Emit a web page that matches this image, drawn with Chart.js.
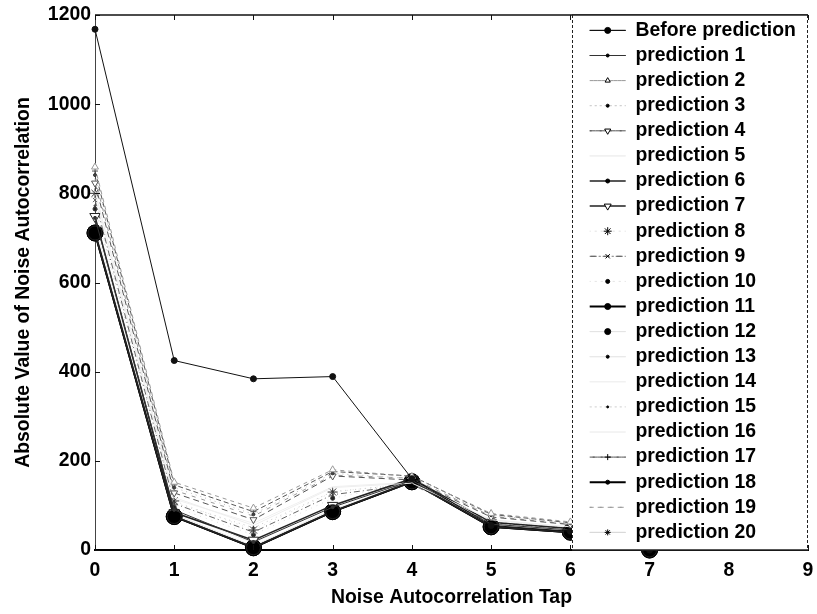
<!DOCTYPE html>
<html>
<head>
<meta charset="utf-8">
<script src="https://cdn.jsdelivr.net/npm/chart.js@4.4.1/dist/chart.umd.min.js"></script>
<style>
  html, body { margin: 0; padding: 0; background: #fff; }
  #wrap { width: 817px; height: 614px; }
</style>
</head>
<body>
<div id="wrap"><canvas id="tapChart" width="817" height="614"></canvas></div>
<script>
// Autocorrelation taps on the x axis
const taps = [0, 1, 2, 3, 4, 5, 6, 7];

// |autocorrelation| of the noise, before and after each prediction pass
const beforePrediction = [1168, 425, 384, 389, 160, 55, 42, 0];
const pred1  = [745, 90, 18, 96, 156, 58, 45, 2];
const pred2  = [859, 152, 94, 180, 165, 82, 63, 8];
const pred3  = [841, 140, 80, 172, 160, 78, 60, 6];
const pred4  = [823, 128, 68, 166, 157, 74, 57, 5];
const pred5  = [805, 118, 55, 140, 150, 68, 52, 4];
const pred6  = [711, 75, 5, 86, 153, 52, 40, 0];
const pred7  = [748, 84, 22, 100, 160, 62, 48, 2];
const pred8  = [800, 110, 45, 130, 150, 64, 50, 3];
const pred9  = [785, 104, 40, 124, 147, 61, 48, 3];
const pred10 = [765, 96, 34, 116, 152, 59, 46, 2];
const pred11 = [711, 75, 5, 86, 153, 52, 40, 0];
const pred12 = [714, 77, 6, 88, 155, 53, 41, 0];
const pred13 = [720, 80, 9, 91, 151, 55, 42, 1];
const pred14 = [730, 86, 15, 102, 158, 57, 44, 1];
const pred15 = [772, 106, 50, 131, 148, 63, 49, 3];
const pred16 = [792, 114, 60, 142, 152, 67, 51, 4];
const pred17 = [850, 146, 86, 176, 166, 80, 61, 7];
const pred18 = [711, 75, 5, 86, 153, 52, 40, 0];
const pred19 = [833, 134, 76, 168, 161, 76, 58, 6];
const pred20 = [712, 76, 5, 87, 152, 52, 40, 0];

const seriesNames = ['Before prediction'];
for (let i = 1; i <= 20; i++) seriesNames.push('prediction ' + i);

const seriesValues = [beforePrediction, pred1, pred2, pred3, pred4, pred5, pred6, pred7,
  pred8, pred9, pred10, pred11, pred12, pred13, pred14, pred15, pred16, pred17, pred18,
  pred19, pred20];

const yTicks = { min: 0, max: 1200, step: 200 };
const xTicks = { min: 0, max: 9, step: 1 };

// line / marker look of each series (grey levels of a b&w print)
const seriesStyles = [
  { color: '#111', width: 1,   dash: [],         point: 'circle',   radius: 3,   fill: '#111', mark: 3 },
  { color: '#333', width: 1,   dash: [],         point: 'circle',   radius: 1.5, fill: '#333', mark: 1.5 },
  { color: '#999', width: 1,   dash: [4, 4],     point: 'triangle', radius: 4,   fill: '#fff', mark: 3 },
  { color: '#bbb', width: 1,   dash: [1, 4],     point: 'circle',   radius: 1.5, fill: '#444', mark: 1.5 },
  { color: '#555', width: 1,   dash: [6, 4],     point: 'triangle', radius: 4,   fill: '#fff', mark: 3.5, rotation: 180 },
  { color: '#eeeeee', width: 1, dash: [],        point: false },
  { color: '#222', width: 1.5, dash: [],         point: 'circle',   radius: 7,   fill: '#000', mark: 2 },
  { color: '#222', width: 1.5, dash: [],         point: 'triangle', radius: 6,   fill: '#fff', mark: 4, rotation: 180 },
  { color: '#dddddd', width: 1, dash: [1, 5],    point: 'star',     radius: 5,   fill: '#fff', mark: 4 },
  { color: '#666', width: 1,   dash: [6, 3, 1, 3], point: 'crossRot', radius: 3, fill: '#555', mark: 3 },
  { color: '#dddddd', width: 1, dash: [1, 5],    point: 'circle',   radius: 2,   fill: '#222', mark: 2 },
  { color: '#000', width: 2,   dash: [],         point: 'circle',   radius: 8,   fill: '#000', mark: 3 },
  { color: '#e4e4e4', width: 1, dash: [],        point: 'circle',   radius: 3,   fill: '#111', mark: 3 },
  { color: '#e8e8e8', width: 1, dash: [],        point: 'circle',   radius: 1.5, fill: '#444', mark: 1.5 },
  { color: '#f0f0f0', width: 1, dash: [],        point: false },
  { color: '#c8c8c8', width: 1, dash: [1, 4],    point: 'circle',   radius: 1,   fill: '#888', mark: 1 },
  { color: '#f0f0f0', width: 1, dash: [],        point: false },
  { color: '#555', width: 1,   dash: [5, 3],     point: 'cross',    radius: 3,   fill: '#444', mark: 3 },
  { color: '#000', width: 2,   dash: [],         point: 'circle',   radius: 8,   fill: '#000', mark: 2 },
  { color: '#999', width: 1,   dash: [4, 6],     point: false },
  { color: '#d8d8d8', width: 1, dash: [],        point: 'star',     radius: 6,   fill: '#fff', mark: 3 }
];

const FONT = "'Liberation Sans', Arial, Helvetica, sans-serif";
const FONT_SIZE = 19.4;
const LEGEND_BOX_W = 36;
const LEGEND_PAD = 5.7;

Chart.defaults.font.family = FONT;
Chart.defaults.font.size = FONT_SIZE;
Chart.defaults.font.weight = 'bold';
Chart.defaults.color = '#000';

// light lines still get dark marker outlines
const markerEdge = st => (parseInt(st.color.slice(1, 2), 16) >= 10 ? '#333' : st.color);

const datasets = seriesValues.map((values, i) => {
  const st = seriesStyles[i];
  return {
    label: seriesNames[i],
    data: values.map((v, k) => ({ x: taps[k], y: v })),
    borderColor: st.color,
    borderWidth: st.width,
    borderDash: st.dash,
    backgroundColor: st.fill || st.color,
    pointStyle: st.point || 'circle',
    pointRadius: st.point ? st.radius : 0,
    pointBackgroundColor: st.fill || st.color,
    pointBorderColor: markerEdge(st),
    pointBorderWidth: 1,
    pointRotation: st.rotation || 0,
    tension: 0,
    clip: false
  };
});

// box around the axes, inward ticks, and the legend panel drawn over the plot
const framePlugin = {
  id: 'frame',
  afterLayout(chart) {
    const lg = chart.legend, ca = chart.chartArea;
    lg.left = ca.right - 224;
    lg.right = ca.right;
    lg.top = ca.top;
    lg.bottom = ca.bottom;
    lg.height = ca.bottom - ca.top;
  },
  afterDraw(chart) {
    const { ctx, chartArea: ca, scales: { x, y } } = chart;
    ctx.save();
    ctx.strokeStyle = '#111';
    ctx.lineWidth = 1.5;
    ctx.beginPath();
    ctx.moveTo(ca.left, ca.top);
    ctx.lineTo(ca.right, ca.top);
    ctx.stroke();

    ctx.lineWidth = 1;
    ctx.beginPath();
    y.ticks.forEach(t => {
      const py = Math.round(y.getPixelForValue(t.value)) + 0.5;
      ctx.moveTo(ca.left, py);
      ctx.lineTo(ca.left + 5, py);
    });
    x.ticks.forEach(t => {
      const px = Math.round(x.getPixelForValue(t.value)) + 0.5;
      ctx.moveTo(px, ca.bottom);
      ctx.lineTo(px, ca.bottom - 5);
      ctx.moveTo(px, ca.top);
      ctx.lineTo(px, ca.top + 5);
    });
    ctx.stroke();

    // legend panel
    const boxLeft = Math.round(ca.right - 236);
    ctx.fillStyle = '#fff';
    ctx.fillRect(boxLeft, ca.top, ca.right - boxLeft, ca.bottom - ca.top);
    ctx.strokeStyle = '#222';
    ctx.lineWidth = 1;
    ctx.setLineDash([3, 2]);
    ctx.beginPath();
    ctx.moveTo(boxLeft + 0.5, ca.top);
    ctx.lineTo(boxLeft + 0.5, ca.bottom);
    ctx.moveTo(ca.right - 0.5, ca.top);
    ctx.lineTo(ca.right - 0.5, ca.bottom);
    ctx.stroke();
    ctx.setLineDash([]);
    ctx.lineWidth = 1.5;
    ctx.beginPath();
    ctx.moveTo(boxLeft, ca.top);
    ctx.lineTo(ca.right, ca.top);
    ctx.moveTo(boxLeft, ca.bottom);
    ctx.lineTo(ca.right, ca.bottom);
    ctx.stroke();
    ctx.restore();

    chart.legend.draw();

    // marker in the middle of each legend line
    const hb = chart.legend.legendHitBoxes;
    ctx.save();
    chart.legend.legendItems.forEach((item, i) => {
      const st = seriesStyles[item.datasetIndex];
      if (!st.point || !hb[i]) return;
      ctx.setLineDash([]);
      ctx.fillStyle = st.fill === '#fff' ? '#fff' : '#000';
      ctx.strokeStyle = '#000';
      ctx.lineWidth = 1;
      Chart.helpers.drawPoint(ctx, {
        pointStyle: st.point,
        radius: st.mark,
        rotation: st.rotation || 0,
        borderWidth: 1
      }, hb[i].left + LEGEND_BOX_W / 2, hb[i].top + FONT_SIZE / 2);
    });
    ctx.restore();
  }
};

new Chart(document.getElementById('tapChart'), {
  type: 'line',
  data: { datasets },
  plugins: [framePlugin],
  options: {
    responsive: false,
    animation: false,
    events: [],
    layout: { padding: { top: 15, right: 7, bottom: 0, left: 0 } },
    plugins: {
      tooltip: { enabled: false },
      legend: {
        position: 'chartArea',
        align: 'start',
        labels: {
          boxWidth: LEGEND_BOX_W,
          boxHeight: 0,
          padding: LEGEND_PAD,
          color: '#000',
          font: { size: FONT_SIZE, weight: 'bold' }
        }
      }
    },
    scales: {
      x: {
        type: 'linear',
        min: xTicks.min,
        max: xTicks.max,
        afterFit(scale) {
          scale.height = 64;
          scale.paddingLeft = 0;
          scale.paddingRight = 0;
        },
        grid: { display: false, drawTicks: false },
        border: { display: true, color: '#000', width: 2 },
        ticks: { stepSize: xTicks.step, padding: 9, color: '#000' },
        title: {
          display: true,
          text: 'Noise Autocorrelation Tap',
          color: '#000',
          padding: { top: 0, bottom: 5 }
        }
      },
      y: {
        min: yTicks.min,
        max: yTicks.max,
        afterFit(scale) {
          scale.width = 95;
          scale.paddingTop = 0;
          scale.paddingBottom = 0;
        },
        grid: { display: false, drawTicks: false },
        border: { display: true, color: '#444', width: 1, dash: [2, 3] },
        ticks: {
          stepSize: yTicks.step,
          padding: 4,
          color: '#000',
          callback: v => String(v)
        },
        title: {
          display: true,
          text: 'Absolute Value of Noise Autocorrelation',
          color: '#000',
          padding: { top: 12, bottom: 0 }
        }
      }
    }
  }
});
</script>
</body>
</html>
